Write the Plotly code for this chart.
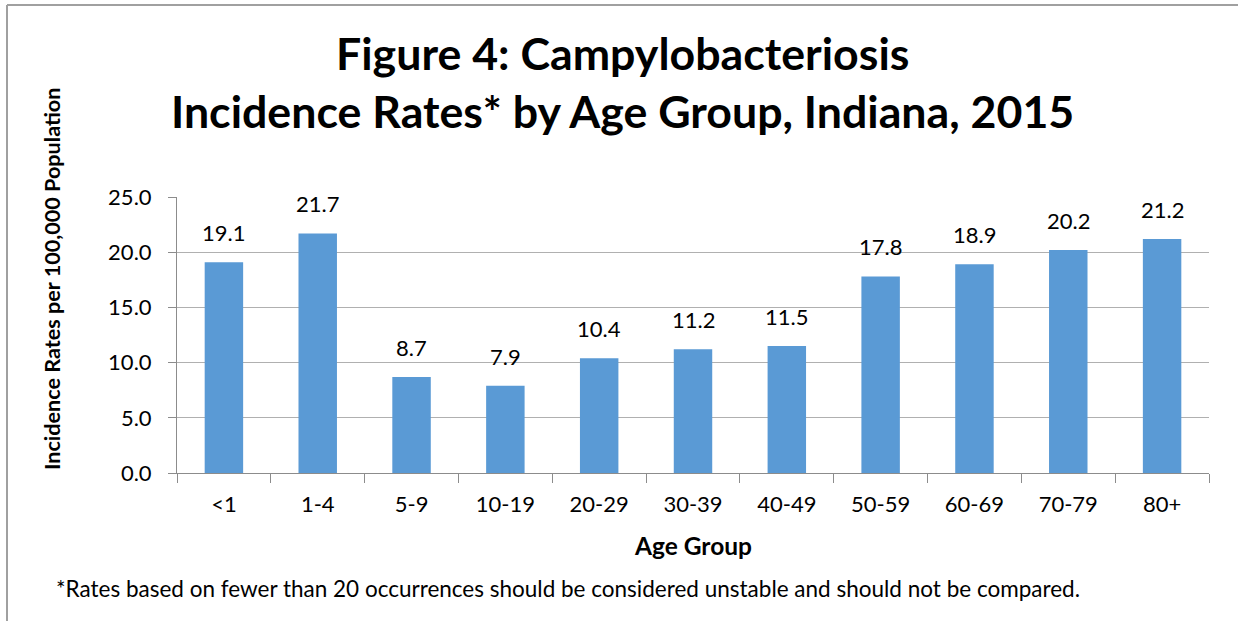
import plotly.graph_objects as go

age_groups = ["<1", "1-4", "5-9", "10-19", "20-29", "30-39", "40-49", "50-59", "60-69", "70-79", "80+"]
rates = [19.1, 21.7, 8.7, 7.9, 10.4, 11.2, 11.5, 17.8, 18.9, 20.2, 21.2]
y_ticks = [0, 5, 10, 15, 20, 25]
y_tick_labels = ["0.0", "5.0", "10.0", "15.0", "20.0", "25.0"]

FONT = "Lato"
W, H = 1238, 621
ML, MR, MT, MB = 177, 29, 197, 148
PW = W - ML - MR
PH = H - MT - MB

def px_x(p):
    return (p - ML) / PW

def px_y(p):
    return (H - MB - p) / PH

fig = go.Figure()
fig.add_trace(go.Bar(
    x=age_groups, y=rates,
    marker=dict(color="#5a9ad5", line=dict(width=0)),
    width=0.41,
    hoverinfo="x+y",
))

annotations = []
for g, v in zip(age_groups, rates):
    annotations.append(dict(
        x=g, y=v, xref="x", yref="y", text=f"{v:.1f}", showarrow=False,
        yanchor="bottom", yshift=14, font=dict(family=FONT, size=22, color="#000000"),
    ))

annotations += [
    dict(x=px_x(622), y=px_y(53), xref="paper", yref="paper", showarrow=False,
         text="<b>Figure 4: Campylobacteriosis</b>", xanchor="center", yanchor="middle",
         font=dict(family=FONT, size=44.7, color="#000000")),
    dict(x=px_x(622), y=px_y(111), xref="paper", yref="paper", showarrow=False,
         text="<b>Incidence Rates* by Age Group, Indiana, 2015</b>", xanchor="center", yanchor="middle",
         font=dict(family=FONT, size=44.7, color="#000000")),
    dict(x=px_x(52), y=px_y(279), xref="paper", yref="paper", showarrow=False,
         text="<b>Incidence Rates per 100,000 Population</b>", textangle=-90,
         xanchor="center", yanchor="middle",
         font=dict(family=FONT, size=21.6, color="#000000")),
    dict(x=px_x(693), y=px_y(545), xref="paper", yref="paper", showarrow=False,
         text="<b>Age Group</b>", xanchor="center", yanchor="middle",
         font=dict(family=FONT, size=24.5, color="#000000")),
    dict(x=px_x(54), y=px_y(588), xref="paper", yref="paper", showarrow=False,
         text="*Rates based on fewer than 20 occurrences should be considered unstable and should not be compared.",
         xanchor="left", yanchor="middle",
         font=dict(family=FONT, size=22.5, color="#000000")),
]

shapes = [
    dict(type="line", xref="paper", yref="paper", x0=px_x(7), x1=px_x(1240), y0=px_y(5), y1=px_y(5),
         line=dict(color="#a0a0a0", width=2)),
    dict(type="line", xref="paper", yref="paper", x0=px_x(7), x1=px_x(7), y0=px_y(5), y1=px_y(625),
         line=dict(color="#a0a0a0", width=2)),
]

fig.update_layout(
    width=W, height=H,
    margin=dict(l=ML, r=MR, t=MT, b=MB, pad=0),
    paper_bgcolor="white", plot_bgcolor="white",
    showlegend=False,
    bargap=0.59,
    annotations=annotations,
    shapes=shapes,
    font=dict(family=FONT, color="#000000"),
)
fig.update_xaxes(
    type="category",
    showline=True, linecolor="#8c8c8c", linewidth=1,
    ticks="outside", tickson="boundaries", ticklen=9, tickcolor="#8c8c8c",
    ticklabelstandoff=12,
    tickfont=dict(family=FONT, size=22, color="#000000"),
    showgrid=False,
)
fig.update_yaxes(
    range=[0, 25],
    tickvals=y_ticks, ticktext=y_tick_labels,
    showline=True, linecolor="#8c8c8c", linewidth=1,
    ticks="outside", ticklen=8, tickcolor="#8c8c8c",
    ticklabelstandoff=12,
    showgrid=True, gridcolor="#b0b0b0", gridwidth=1,
    zeroline=False,
    tickfont=dict(family=FONT, size=22, color="#000000"),
)

fig.write_html(
    "out.html",
    config={"displayModeBar": False},
    post_script="document.body.style.margin='0';document.body.style.overflow='hidden';",
)
